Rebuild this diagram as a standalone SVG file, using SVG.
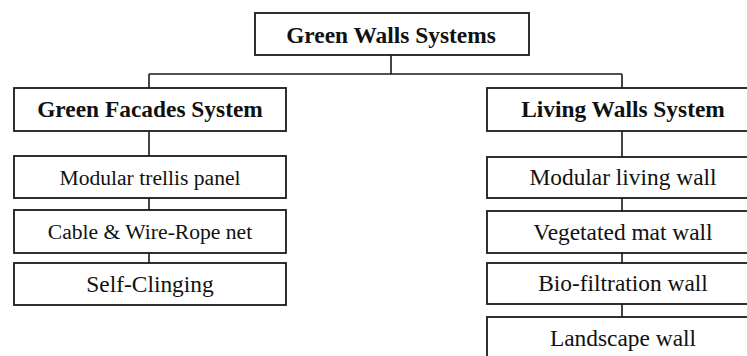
<svg xmlns="http://www.w3.org/2000/svg" width="747" height="356" viewBox="0 0 747 356">
<style>
.box{fill:#fff;stroke:#1a1a1a;stroke-width:1.8}
.ln{stroke:#1a1a1a;stroke-width:1.6;fill:none}
.t{font-family:"Liberation Serif","Times New Roman",serif;text-anchor:middle;fill:#111}
.b{font-weight:bold;font-size:23.4px}
.r{font-size:23.4px}
.s{font-size:21.6px}
</style>
<rect width="747" height="356" fill="#fff"/>
<g id="connectors">
<path class="ln" d="M391 55V74M149 74H622M149 74V88M622 74V88"/>
<path class="ln" d="M149 131V156M149 198V210M149 253V263"/>
<path class="ln" d="M622 131V157M622 198V211M622 253V263M622 304V317"/>
</g>
<g id="root"><rect class="box" x="255" y="13" width="274" height="42"/><text class="t b" x="391" y="43">Green Walls Systems</text></g>
<g id="facades"><rect class="box" x="14" y="88" width="272" height="43"/><text class="t b" x="150" y="117">Green Facades System</text></g>
<g id="trellis"><rect class="box" x="14" y="156" width="272" height="42"/><text class="t s" x="150" y="185">Modular trellis panel</text></g>
<g id="cable"><rect class="box" x="14" y="210" width="272" height="43"/><text class="t s" x="150" y="239">Cable &amp; Wire-Rope net</text></g>
<g id="clinging"><rect class="box" x="14" y="263" width="272" height="42"/><text class="t r" x="150" y="292">Self-Clinging</text></g>
<g id="living"><rect class="box" x="487" y="88" width="270" height="43"/><text class="t b" x="623" y="117">Living Walls System</text></g>
<g id="modular"><rect class="box" x="487" y="157" width="270" height="41"/><text class="t r" x="623" y="185">Modular living wall</text></g>
<g id="mat"><rect class="box" x="487" y="211" width="270" height="42"/><text class="t r" x="623" y="240">Vegetated mat wall</text></g>
<g id="bio"><rect class="box" x="487" y="263" width="270" height="41"/><text class="t r" x="623" y="291">Bio-filtration wall</text></g>
<g id="landscape"><rect class="box" x="487" y="317" width="270" height="45"/><text class="t r" x="623" y="346">Landscape wall</text></g>
</svg>
